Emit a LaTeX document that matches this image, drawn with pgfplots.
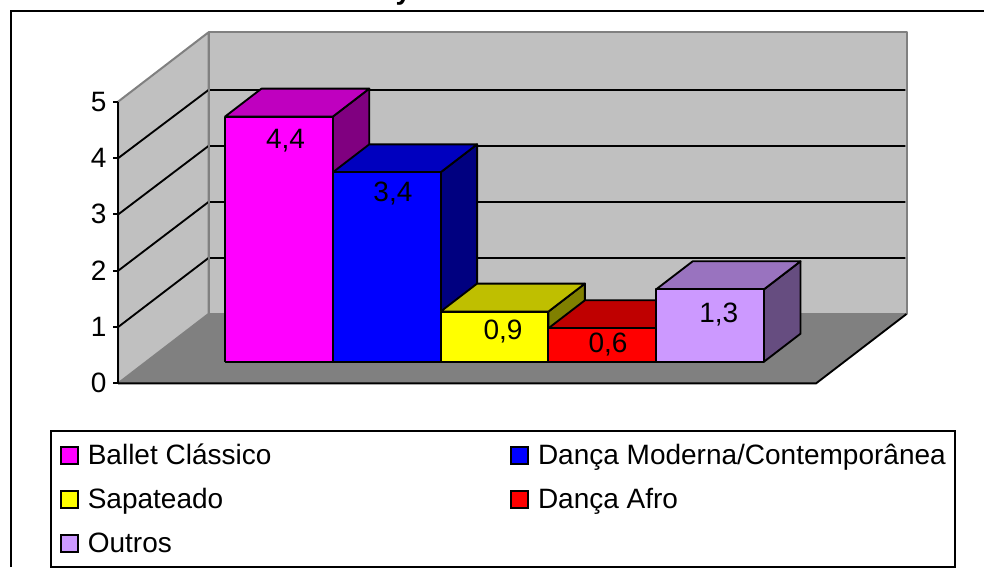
\documentclass[border=0pt]{standalone}
\usepackage{pgfplots}
\pgfplotsset{compat=1.18}
\usepackage{fontspec}
\setmainfont{Liberation Sans}
\definecolor{wall}{HTML}{C0C0C0}
\definecolor{floorc}{HTML}{808080}
\definecolor{c1}{HTML}{FF00FF}\definecolor{c1t}{HTML}{BF00BF}\definecolor{c1s}{HTML}{800080}
\definecolor{c2}{HTML}{0000FF}\definecolor{c2t}{HTML}{0000BF}\definecolor{c2s}{HTML}{000080}
\definecolor{c3}{HTML}{FFFF00}\definecolor{c3t}{HTML}{BFBF00}\definecolor{c3s}{HTML}{808000}
\definecolor{c4}{HTML}{FF0000}\definecolor{c4t}{HTML}{BF0000}\definecolor{c4s}{HTML}{800000}
\definecolor{c5}{HTML}{CC99FF}\definecolor{c5t}{HTML}{9973BF}\definecolor{c5s}{HTML}{664D80}
\newcommand{\fs}{\fontsize{21pt}{24pt}\selectfont}
\pgfplotsset{
  oblique/.style={
    x={(80.85pt,0pt)}, y={(27.375pt,21pt)},
    hide axis, clip=false, anchor=origin,
    xmin=-1,xmax=6,ymin=-1,ymax=2,zmin=0,zmax=5.2,
  },
  swatch/.style={legend image code/.code={
    \draw[fill=#1,draw=black,line width=1.4pt] (0pt,0.45pt) rectangle (12.75pt,13.2pt);}},
}
\begin{document}
\begin{tikzpicture}
\path[use as bounding box] (0,0) rectangle (738pt,-425.25pt);
\draw[line width=1.6pt] (8.25pt,-425.25pt) -- (8.25pt,-8.5pt) -- (738pt,-8.5pt);
\node[anchor=base,font=\bfseries\fs] at (302.5pt,0.6pt) {y};
% walls and floor (z unit 56 px)
\begin{axis}[oblique, z={(0pt,42pt)}, at={(168.75pt,-271.275pt)}]
% floor
\addplot3[fill=floorc,draw=none] coordinates {(-0.73,-0.775,0)(5.745,-0.775,0)(5.745,1.704,0)(-0.73,1.704,0)(-0.73,-0.775,0)};
% back wall
\addplot3[fill=wall,draw=floorc,line width=1.5pt,line join=round] coordinates {(-0.73,1.704,0)(5.745,1.704,0)(5.745,1.704,5.03)(-0.73,1.704,5.03)(-0.73,1.704,0)};
% side wall
\addplot3[fill=wall,draw=floorc,line width=1.5pt,line join=round] coordinates {(-0.73,-0.775,0)(-0.73,1.704,0)(-0.73,1.704,5.03)(-0.73,-0.775,5.03)(-0.73,-0.775,0)};
% grid
\addplot3[black,line width=1.4pt] coordinates {(-0.73,-0.775,1.005)(-0.73,1.704,1)(5.735,1.704,1)};
\addplot3[black,line width=1.4pt] coordinates {(-0.73,-0.775,2.01)(-0.73,1.704,2)(5.735,1.704,2)};
\addplot3[black,line width=1.4pt] coordinates {(-0.73,-0.775,3.015)(-0.73,1.704,3)(5.735,1.704,3)};
\addplot3[black,line width=1.4pt] coordinates {(-0.73,-0.775,4.02)(-0.73,1.704,4)(5.735,1.704,4)};
\addplot3[floorc,line width=1.5pt] coordinates {(-0.73,1.704,0)(-0.73,1.704,5.03)};
% floor front and right edges
\addplot3[black,line width=1.4pt] coordinates {(-0.73,-0.775,0)(5.745,-0.775,0)(5.745,1.704,0)};
\end{axis}
% bars (z unit 55.7 px)
\begin{axis}[oblique, z={(0pt,41.775pt)}, at={(168.75pt,-271.275pt)},
  every axis plot/.append style={draw=black,line width=1.4pt,line join=round}]
% Ballet Classico 4.4
\addplot3[fill=c1s] coordinates {(1,0,0)(1,1,0)(1,1,4.4)(1,0,4.4)(1,0,0)};
\addplot3[fill=c1t] coordinates {(0,0,4.4)(1,0,4.4)(1,1,4.4)(0,1,4.4)(0,0,4.4)};
\addplot3[fill=c1]  coordinates {(0,0,0)(1,0,0)(1,0,4.4)(0,0,4.4)(0,0,0)};
% Danca Moderna 3.4
\addplot3[fill=c2s] coordinates {(2,0,0)(2,1,0)(2,1,3.4)(2,0,3.4)(2,0,0)};
\addplot3[fill=c2t] coordinates {(1,0,3.4)(2,0,3.4)(2,1,3.4)(1,1,3.4)(1,0,3.4)};
\addplot3[fill=c2]  coordinates {(1,0,0)(2,0,0)(2,0,3.4)(1,0,3.4)(1,0,0)};
% Sapateado 0.9
\addplot3[fill=c3s] coordinates {(3,0,0)(3,1,0)(3,1,0.9)(3,0,0.9)(3,0,0)};
\addplot3[fill=c3t] coordinates {(2,0,0.9)(3,0,0.9)(3,1,0.9)(2,1,0.9)(2,0,0.9)};
\addplot3[fill=c3]  coordinates {(2,0,0)(3,0,0)(3,0,0.9)(2,0,0.9)(2,0,0)};
% Danca Afro 0.6
\addplot3[fill=c4s] coordinates {(4,0,0)(4,1,0)(4,1,0.6)(4,0,0.6)(4,0,0)};
\addplot3[fill=c4t] coordinates {(3,0,0.6)(4,0,0.6)(4,1,0.6)(3,1,0.6)(3,0,0.6)};
\addplot3[fill=c4]  coordinates {(3,0,0)(4,0,0)(4,0,0.6)(3,0,0.6)(3,0,0)};
% Outros 1.3
\addplot3[fill=c5s] coordinates {(5,0,0)(5,1,0)(5,1,1.3)(5,0,1.3)(5,0,0)};
\addplot3[fill=c5t] coordinates {(4,0,1.3)(5,0,1.3)(5,1,1.3)(4,1,1.3)(4,0,1.3)};
\addplot3[fill=c5]  coordinates {(4,0,0)(5,0,0)(5,0,1.3)(4,0,1.3)(4,0,0)};
\node[anchor=base,font=\fs] at (axis cs:0.561,0,3.831) {4,4};
\node[anchor=base,font=\fs] at (axis cs:1.558,0,2.885) {3,4};
\node[anchor=base,font=\fs] at (axis cs:2.579,0,0.407) {0,9};
\node[anchor=base,font=\fs] at (axis cs:3.553,0,0.162) {0,6};
\node[anchor=base,font=\fs] at (axis cs:4.580,0,0.700) {1,3};
\end{axis}
% value axis and legend
\begin{axis}[
  at={(88.5pt,-287.475pt)}, anchor=south west,
  scale only axis, width=75pt, height=211.2pt,
  xmin=0,xmax=1,ymin=0,ymax=5,
  axis x line=none, axis y line*=left,
  axis line style={line width=1.4pt,black},
  ytick={0,1,2,3,4,5}, tick align=outside, major tick length=3.75pt,
  ytick style={line width=1.4pt,black},
  y tick label style={font=\fs, /pgf/number format/assume math mode=true, inner xsep=0pt, xshift=-4.75pt},
  legend columns=2,
  legend cell align=left,
  legend style={
    at={(-0.68,-0.1658)}, anchor=north west,
    draw=black, line width=1.4pt, fill=white,
    font=\fs, inner xsep=7pt, inner ysep=9.7pt,
    /tikz/every even column/.append style={column sep=0pt},
    /tikz/row sep=16.5pt,
    nodes={inner sep=0pt, anchor=base west},
  },
]
\addlegendimage{swatch=c1}\addlegendentry{\hspace{6.5pt}\makebox[317pt][l]{Ballet Clássico}}
\addlegendimage{swatch=c2}\addlegendentry{\hspace{6.5pt}\makebox[306pt][l]{Dança Moderna/Contemporânea}}
\addlegendimage{swatch=c3}\addlegendentry{\hspace{6.5pt}\makebox[317pt][l]{Sapateado}}
\addlegendimage{swatch=c4}\addlegendentry{\hspace{6.5pt}\makebox[306pt][l]{Dança Afro}}
\addlegendimage{swatch=c5}\addlegendentry{\hspace{6.5pt}\makebox[317pt][l]{Outros}}
\addlegendimage{empty legend}\addlegendentry{}
\addplot[draw=none,forget plot] coordinates {(0,0)(1,5)};
\end{axis}
\end{tikzpicture}
\end{document}
